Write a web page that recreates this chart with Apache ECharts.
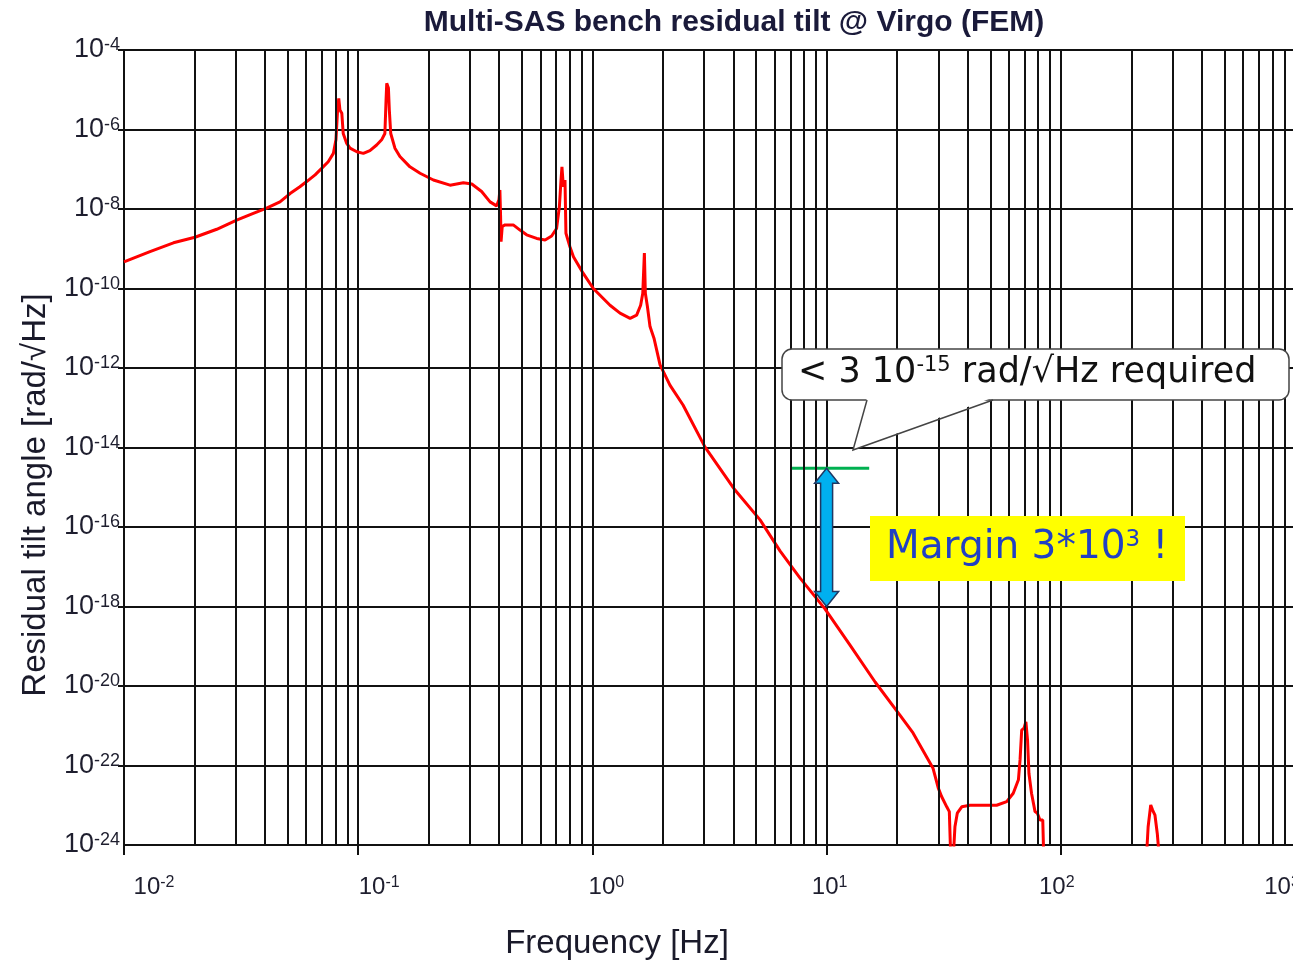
<!DOCTYPE html>
<html><head><meta charset="utf-8">
<script src="https://cdn.jsdelivr.net/npm/echarts@6/dist/echarts.min.js"></script>
<style>html,body{margin:0;padding:0;background:#fff}#c{width:1293px;height:963px}</style>
</head><body><div id="c"></div>
<script>
// ---- data ----
const freqHz = [
  0.0100,0.01291,0.01626,0.02009,0.02489,0.03027,0.03565,0.04064,0.04634,0.05117,
  0.05636,0.06026,0.06546,0.06982,0.07447,0.07834,0.08035,0.08166,0.08260,0.08356,
  0.08511,0.08630,0.08933,0.09226,0.09863,0.1052,0.1122,0.1199,0.1259,0.1300,
  0.1315,0.1324,0.1346,0.1358,0.1377,0.1435,0.1507,0.1663,0.1837,0.2094,
  0.2466,0.2812,0.3055,0.3365,0.3656,0.3899,0.3990,0.4027,0.4055,0.4074,
  0.4121,0.4236,0.4592,0.4909,0.5236,0.5781,0.6281,0.6699,0.7031,0.7228,
  0.7345,0.7413,0.7516,0.7638,0.7709,0.8017,0.8299,0.9141,1.009,1.189,
  1.312,1.449,1.545,1.607,1.641,1.667,1.683,1.718,1.762,1.832,
  1.945,2.143,2.438,3.027,4.064,5.200,6.324,7.691,9.840,12.59,
  16.11,20.56,23.39,28.44,29.99,30.97,32.58,33.42,33.88,34.75,
  35.32,36.14,37.76,40.93,53.21,58.75,62.66,65.92,66.99,68.08,
  69.66,70.96,72.11,73.11,74.99,77.62,79.43,81.47,83.75,84.72,
  231.2,236.0,242.1,246.6,252.4,258.2,264.9
];
const tiltRad = [
  4.68e-10,8.51e-10,1.41e-9,1.95e-9,3.09e-9,5.25e-9,7.76e-9,1.05e-8,1.51e-8,2.45e-8,
  3.63e-8,4.90e-8,7.24e-8,1.05e-7,1.55e-7,2.51e-7,5.50e-7,3.09e-6,6.03e-6,3.09e-6,
  2.57e-6,7.94e-7,4.47e-7,3.39e-7,2.75e-7,2.51e-7,2.95e-7,4.07e-7,5.50e-7,7.94e-7,
  5.50e-6,1.45e-5,1.10e-5,3.09e-6,7.94e-7,3.39e-7,2.09e-7,1.15e-7,7.94e-8,5.37e-8,
  3.98e-8,4.57e-8,4.27e-8,2.75e-8,1.51e-8,1.20e-8,1.70e-8,3.02e-8,6.46e-9,1.51e-9,
  3.63e-9,3.98e-9,3.98e-9,2.95e-9,2.24e-9,1.82e-9,1.66e-9,2.09e-9,3.24e-9,1.15e-8,
  5.37e-8,1.15e-7,3.63e-8,5.37e-8,2.45e-9,1.12e-9,6.31e-10,2.40e-10,1.00e-10,3.80e-11,
  2.40e-11,1.78e-11,2.14e-11,3.80e-11,7.59e-11,7.76e-10,7.59e-11,3.47e-11,1.10e-11,5.62e-12,
  1.20e-12,3.72e-13,1.17e-13,1.02e-14,8.51e-16,1.51e-16,2.51e-17,5.25e-18,8.71e-19,1.07e-19,
  1.26e-20,1.86e-21,6.61e-22,8.71e-23,2.69e-23,1.66e-23,9.12e-24,6.92e-24,5.0e-25,5.0e-25,
  2.88e-24,6.31e-24,9.12e-24,1.00e-23,1.00e-23,1.23e-23,2.00e-23,4.37e-23,1.38e-22,7.76e-22,
  8.71e-22,1.26e-21,4.37e-22,6.31e-23,2.00e-23,6.92e-24,6.31e-24,4.27e-24,4.27e-24,3.2e-25,
  3.2e-25,2.88e-24,1.02e-23,7.59e-24,5.62e-24,1.95e-24,3.2e-25
];
const xTickExps = [-2,-1,0,1,2,3];
const yTickExps = [-4,-6,-8,-10,-12,-14,-16,-18,-20,-22,-24];
const requirementLine = [[7.05, 3e-15],[15.2, 3e-15]];   // green "required" level
const marginArrowEnds = [[10, 3e-15],[10, 1.0e-18]];     // blue double arrow
const titleText = 'Multi-SAS bench residual tilt @ Virgo (FEM)';
const xTitle = 'Frequency [Hz]';
const yTitle = 'Residual tilt angle [rad/√Hz]';
const calloutParts = ['< 3 10', '-15', ' rad/√Hz required'];
const marginParts = ['Margin 3*10', '3', ' !'];

// ---- layout ----
const xLabelShift = [30,21,14,3,-4,-13];
const minorX = [];
for (let e = xTickExps[0]; e < xTickExps[xTickExps.length-1]; e++)
  for (let k = 2; k <= 9; k++) minorX.push(k * Math.pow(10, e));
const FONT = 'Liberation Sans';

const xRich = {
  b: {fontSize: 24, fontFamily: FONT, color: '#1e1e2e', verticalAlign: 'bottom'},
  s: {fontSize: 16, fontFamily: FONT, color: '#1e1e2e', verticalAlign: 'top'}
};
xLabelShift.forEach((d, i) => { xRich['w' + i] = {width: Math.abs(2 * d), fontSize: 10}; });

const chart = echarts.init(document.getElementById('c'), null, {renderer: 'canvas'});
chart.setOption({
  animation: false,
  backgroundColor: '#fff',
  title: {text: titleText, left: 729, top: 3, textAlign: 'center',
    textStyle: {fontFamily: FONT, fontWeight: 'bold', fontSize: 30, color: '#1a1a3a'}},
  grid: {left: 124, top: 50, width: 1171, height: 795, outerBoundsMode: 'none', containLabel: false},
  xAxis: {
    type: 'log', logBase: 10, min: 0.01, max: 1000,
    axisLine: {show: true, lineStyle: {color: '#111', width: 2}},
    axisTick: {show: true, length: 10, inside: false, lineStyle: {color: '#111', width: 2}},
    splitLine: {show: true, lineStyle: {color: '#111', width: 2}},
    axisLabel: {
      showMinLabel: true, showMaxLabel: true, hideOverlap: false, margin: 30, align: 'center',
      customValues: xTickExps.map(e => Math.pow(10, e)),
      formatter: function (v) {
        const e = Math.round(Math.log10(v));
        const i = xTickExps.indexOf(e);
        const d = i >= 0 ? xLabelShift[i] : 0;
        let s = '{b|10}{s|' + e + '}';
        if (d > 0) s = '{w' + i + '| }' + s; else if (d < 0) s = s + '{w' + i + '| }';
        return s;
      },
      rich: xRich
    }
  },
  yAxis: {
    type: 'log', logBase: 10, min: 1e-24, max: 1e-4, interval: 2,
    axisLine: {show: true, lineStyle: {color: '#111', width: 2}},
    axisTick: {show: true, length: 6, lineStyle: {color: '#111', width: 2}},
    splitLine: {show: true, lineStyle: {color: '#111', width: 2}},
    axisLabel: {
      showMinLabel: true, showMaxLabel: true, hideOverlap: false, margin: 4,
      customValues: yTickExps.map(e => Math.pow(10, e)),
      formatter: function (v) {
        const e = Math.round(Math.log10(v));
        return '{b|10}{s|' + e + '}';
      },
      rich: {
        b: {fontSize: 27, fontFamily: FONT, color: '#1e1e2e', verticalAlign: 'bottom'},
        s: {fontSize: 18, fontFamily: FONT, color: '#1e1e2e', verticalAlign: 'top'}
      }
    }
  },
  series: [
    {
      type: 'line', name: 'minor grid', data: [], z: 1, silent: true,
      markLine: {silent: true, symbol: 'none', animation: false,
        label: {show: false}, lineStyle: {color: '#111', width: 2, type: 'solid'},
        data: minorX.map(v => ({xAxis: v}))}
    },
    {
      type: 'line', name: 'tilt', z: 3, showSymbol: false, symbol: 'none', clip: true,
      lineStyle: {color: '#ff0000', width: 3}, itemStyle: {color: '#ff0000'},
      data: freqHz.map((f, i) => [f, tiltRad[i]])
    },
    {
      type: 'line', name: 'requirement', z: 4, showSymbol: false, symbol: 'none',
      lineStyle: {color: '#00b050', width: 3}, data: requirementLine
    }
  ]
});

// ---- annotations ----
const pTop = chart.convertToPixel({gridIndex: 0}, marginArrowEnds[0]);
const pBot = chart.convertToPixel({gridIndex: 0}, marginArrowEnds[1]);
const ax = pTop[0], yt = pTop[1], yb = pBot[1];
const h = 15, hw = 12, sw = 6;
const arrowPts = [[ax, yt],[ax+hw, yt+h],[ax+sw, yt+h],[ax+sw, yb-h],[ax+hw, yb-h],[ax, yb],
  [ax-hw, yb-h],[ax-sw, yb-h],[ax-sw, yt+h],[ax-hw, yt+h]];

chart.setOption({
  graphic: [
    {type: 'text', x: 36, y: 495, rotation: Math.PI / 2,
      style: {text: yTitle, font: '33px "Liberation Sans"', fill: '#1a1a2a', align: 'center', verticalAlign: 'middle'}},
    {type: 'text', x: 617, y: 944,
      style: {text: xTitle, font: '33px "Liberation Sans"', fill: '#1a1a2a', align: 'center', verticalAlign: 'middle'}},
    {type: 'polygon', z: 10, shape: {points: arrowPts},
      style: {fill: '#00b0f0', stroke: '#1f3864', lineWidth: 1.5}},
    {type: 'rect', z: 10, shape: {x: 782, y: 349, width: 507, height: 51, r: 10},
      style: {fill: '#fff', stroke: '#444', lineWidth: 1.5}},
    {type: 'polygon', z: 11, shape: {points: [[867, 397.5],[853, 450],[993, 397.5]]},
      style: {fill: '#fff', stroke: null}},
    {type: 'polyline', z: 11, shape: {points: [[867, 400],[853, 450],[993, 400]]},
      style: {stroke: '#444', lineWidth: 1.5, fill: null}},
    {type: 'text', z: 12, x: 798, y: 373,
      style: {
        text: '{t|' + calloutParts[0] + '}{s|' + calloutParts[1] + '}{t|' + calloutParts[2] + '}',
        align: 'left', verticalAlign: 'middle',
        rich: {
          t: {font: '35px "DejaVu Sans"', fill: '#111', verticalAlign: 'bottom'},
          s: {font: '21px "DejaVu Sans"', fill: '#111', verticalAlign: 'top'}
        }
      }},
    {type: 'rect', z: 10, shape: {x: 870, y: 516, width: 315, height: 65},
      style: {fill: '#ffff00'}},
    {type: 'text', z: 12, x: 886, y: 548,
      style: {
        text: '{t|' + marginParts[0] + '}{s|' + marginParts[1] + '}{t|' + marginParts[2] + '}',
        align: 'left', verticalAlign: 'middle',
        rich: {
          t: {font: '39px "DejaVu Sans"', fill: '#2140c4', verticalAlign: 'bottom'},
          s: {font: '23px "DejaVu Sans"', fill: '#2140c4', verticalAlign: 'top'}
        }
      }}
  ]
});
</script>
</body></html>
